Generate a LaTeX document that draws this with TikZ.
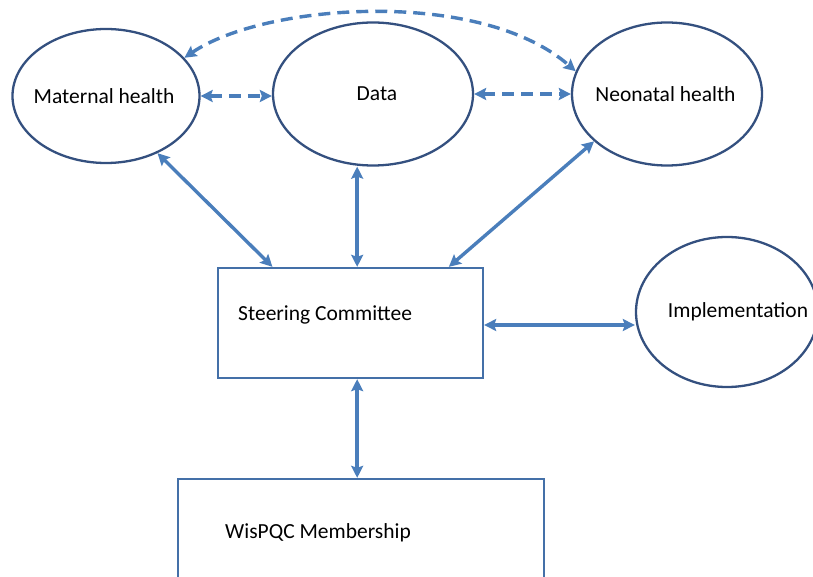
\documentclass[tikz,border=0pt]{standalone}
\usepackage{fontspec}
\setmainfont{Carlito}
\usetikzlibrary{shapes.geometric,arrows.meta,calc}
\definecolor{outlineblue}{HTML}{34507F}
\definecolor{boxblue}{HTML}{4470A8}
\definecolor{linkblue}{HTML}{4A7EBB}
% centred label that takes no width, so the oval keeps its own size
\newcommand{\ovaltext}[2][0pt]{\makebox[0pt]{\hspace*{#1}#2}}
\begin{document}
\begin{tikzpicture}[x=1pt,y=-1pt,
  oval/.style={ellipse,draw=outlineblue,line width=2.3pt,inner sep=0pt,
    font=\fontsize{21.5}{25}\selectfont},
  panel/.style={rectangle,draw=boxblue,line width=2.3pt,inner sep=0pt},
  caption/.style={anchor=west,inner sep=0pt,font=\fontsize{21.5}{25}\selectfont},
  link/.style={draw=linkblue,line width=3.4pt,
    {Stealth[length=12pt,width=12pt,inset=2pt]}-{Stealth[length=12pt,width=12pt,inset=2pt]}},
  dlink/.style={link,dash pattern=on 12pt off 7pt}]
\useasboundingbox (0,0) rectangle (813,577);
\clip (0,0) rectangle (813,577);

% topic groups
\node[oval,minimum width=187pt,minimum height=134pt] (mat) at (106,96) {\ovaltext[-4pt]{Maternal health}};
\node[oval,minimum width=200pt,minimum height=143pt] (dat) at (373,94) {\ovaltext[8pt]{Data}};
\node[oval,minimum width=190pt,minimum height=143pt] (neo) at (667,94) {\ovaltext[-3pt]{Neonatal health}};
\node[oval,minimum width=182pt,minimum height=150pt] (imp) at (727,312) {\ovaltext[22pt]{Implementation}};

% committee and membership boxes
\node[panel,minimum width=265pt,minimum height=110pt] (sc) at (350.5,323) {};
\node[caption] (sctext) at (238,315) {Steering Committee};
\node[panel,minimum width=366pt,minimum height=124pt] (wis) at (361,541) {};
\node[caption] (wistext) at (225,533) {WisPQC Membership};

% attachment points on the committee box
\coordinate (scA) at ($(sc.north west)!0.208!(sc.north east)$);
\coordinate (scB) at ($(sc.north west)!0.525!(sc.north east)$);
\coordinate (scC) at ($(sc.north west)!0.868!(sc.north east)$);
\coordinate (scD) at ($(sc.south west)!0.525!(sc.south east)$);

% solid two-way links
\draw[link] (mat.-48) -- (scA);
\draw[link] (scB |- dat.south) -- (scB);
\draw[link] (neo.213) -- (scC);
\draw[link] ([yshift=-2pt]sc.east) -- ([yshift=-2pt]sc.east -| imp.west);
\draw[link] (scD) -- (scD |- wis.north);

% dashed links between the topic groups
\draw[dlink] (mat.east) -- (mat.east -| dat.west);
\draw[dlink] (dat.east) -- (neo.west);
\draw[dlink] (mat.26) .. controls (265,3) and (480,-12) .. (neo.166);
\end{tikzpicture}
\end{document}
